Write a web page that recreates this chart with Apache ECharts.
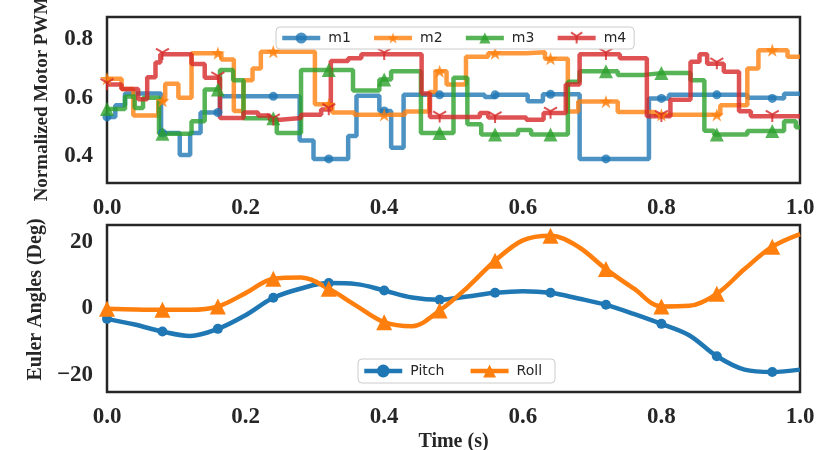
<!DOCTYPE html>
<html><head><meta charset="utf-8">
<script src="https://cdn.jsdelivr.net/npm/echarts@6/dist/echarts.min.js"></script>
<style>html,body{margin:0;padding:0;background:#fff}#c{width:825px;height:450px}</style>
</head><body><div id="c"></div>
<script>
// ---- Top panel: normalized motor PWM (step breakpoints: value holds from time until next time) ----
const m1T = [0, 0.012, 0.026, 0.078, 0.105, 0.12, 0.135, 0.163, 0.278, 0.298, 0.348, 0.36, 0.393, 0.41, 0.428, 0.545, 0.56, 0.607, 0.629, 0.682, 0.782, 0.811, 0.924, 0.96, 0.977, 1.0];
const m1V = [0.535, 0.575, 0.615, 0.48, 0.405, 0.48, 0.55, 0.605, 0.455, 0.392, 0.47, 0.607, 0.555, 0.43, 0.61, 0.603, 0.61, 0.588, 0.612, 0.392, 0.598, 0.61, 0.6, 0.598, 0.614, 0.614];
const m2T = [0, 0.021, 0.038, 0.074, 0.084, 0.103, 0.122, 0.165, 0.183, 0.197, 0.21, 0.222, 0.30, 0.325, 0.357, 0.43, 0.465, 0.474, 0.49, 0.518, 0.55, 0.605, 0.632, 0.665, 0.68, 0.737, 0.79, 0.885, 0.924, 0.94, 0.982, 1.0];
const m2V = [0.665, 0.63, 0.54, 0.59, 0.648, 0.6, 0.752, 0.73, 0.555, 0.66, 0.70, 0.757, 0.578, 0.55, 0.542, 0.553, 0.62, 0.69, 0.645, 0.74, 0.752, 0.755, 0.733, 0.553, 0.587, 0.552, 0.542, 0.575, 0.70, 0.762, 0.74, 0.74];
const m3T = [0, 0.026, 0.04, 0.052, 0.075, 0.122, 0.141, 0.163, 0.182, 0.197, 0.245, 0.28, 0.355, 0.393, 0.41, 0.453, 0.50, 0.52, 0.54, 0.593, 0.612, 0.665, 0.682, 0.737, 0.775, 0.842, 0.862, 0.876, 0.924, 0.977, 0.994, 1.0];
const m3V = [0.562, 0.604, 0.565, 0.60, 0.478, 0.52, 0.628, 0.695, 0.66, 0.53, 0.48, 0.695, 0.625, 0.662, 0.69, 0.48, 0.668, 0.51, 0.475, 0.49, 0.475, 0.655, 0.69, 0.678, 0.684, 0.66, 0.488, 0.475, 0.487, 0.52, 0.50, 0.50];
const m4T = [0, 0.021, 0.045, 0.058, 0.07, 0.077, 0.122, 0.141, 0.163, 0.197, 0.218, 0.235, 0.25, 0.28, 0.309, 0.323, 0.348, 0.367, 0.454, 0.466, 0.538, 0.55, 0.605, 0.63, 0.662, 0.682, 0.74, 0.779, 0.813, 0.842, 0.855, 0.866, 0.89, 0.912, 0.929, 1.0];
const m4V = [0.645, 0.63, 0.595, 0.67, 0.72, 0.748, 0.715, 0.668, 0.531, 0.55, 0.54, 0.525, 0.531, 0.542, 0.56, 0.725, 0.735, 0.748, 0.615, 0.535, 0.548, 0.533, 0.525, 0.548, 0.645, 0.748, 0.735, 0.537, 0.593, 0.723, 0.748, 0.716, 0.689, 0.554, 0.537, 0.537];
const markerTimes = [0, 0.08, 0.16, 0.24, 0.32, 0.40, 0.48, 0.56, 0.64, 0.72, 0.80, 0.88, 0.96];

// ---- Bottom panel: Euler angles (deg) ----
const eulerT = [0, 0.04, 0.08, 0.12, 0.16, 0.20, 0.24, 0.28, 0.32, 0.36, 0.40, 0.44, 0.48, 0.52, 0.56, 0.60, 0.64, 0.68, 0.72, 0.76, 0.80, 0.84, 0.88, 0.92, 0.96, 1.00];
const pitch = [-3.1, -4.8, -6.9, -8.2, -6.1, -2.0, 3.2, 6.0, 7.6, 7.3, 5.4, 3.3, 2.6, 3.6, 4.7, 5.2, 4.7, 3.0, 1.1, -1.6, -4.6, -8.0, -14.3, -18.3, -19.0, -18.3];
const roll = [-0.1, -0.3, -0.4, -0.4, 0.6, 4.6, 8.9, 9.3, 5.9, 0.8, -4.1, -5.3, -0.6, 6.3, 14.3, 20.4, 21.8, 18.5, 11.8, 6.0, 0.6, 0.8, 4.4, 11.8, 18.5, 22.3];

const xTickValues = [0, 0.2, 0.4, 0.6, 0.8, 1.0];
const topYTicks = [0.4, 0.6, 0.8];
const botYTicks = [-20, 0, 20];

const C = ['#1f77b4', '#ff7f0e', '#2ca02c', '#d62728'];
const STAR = 'path://M50,0 L61.8,35.1 L98.9,35.1 L69,57.3 L80.3,92.7 L50,70.8 L19.7,92.7 L31,57.3 L1.1,35.1 L38.2,35.1 Z';
const TRI_DOWN = 'path://M0,0 L0,10 M0,0 L-8.66,-5 M0,0 L8.66,-5';

function stepValue(T, V, t) {
  let v = V[0];
  for (let i = 0; i < T.length; i++) if (T[i] <= t + 1e-9) v = V[i];
  return v;
}
function buildStep(T, V) {
  const pts = T.map((t, i) => [t, V[i], 0]);
  markerTimes.forEach(tm => pts.push([tm, stepValue(T, V, tm), 1]));
  pts.sort((a, b) => (a[0] - b[0]) || (a[2] - b[2]));
  return pts;
}
function motorSeries(name, T, V, color, symbol, size, extra) {
  const pts = buildStep(T, V);
  const flags = pts.map(p => p[2]);
  return Object.assign({
    name: name, type: 'line', xAxisIndex: 0, yAxisIndex: 0, step: 'end',
    data: pts.map(p => [p[0], p[1]]),
    symbol: symbol, showAllSymbol: true,
    symbolSize: (v, p) => flags[p.dataIndex] ? size : 0,
    lineStyle: { width: 4.5, color: color, opacity: 0.8 },
    itemStyle: { color: color, borderColor: color, borderWidth: 0, opacity: 0.8 },
    emphasis: { disabled: true }, animation: false
  }, extra || {});
}

const serif = 'Liberation Serif';
const ink = '#262626';
const tickLabel = { fontFamily: serif, fontWeight: 'bold', fontSize: 23, color: ink };

function xAxis(gi, withName) {
  return {
    type: 'value', gridIndex: gi, min: 0, max: 1,
    axisLine: { show: false }, axisTick: { show: false }, splitLine: { show: false },
    axisLabel: Object.assign({ customValues: xTickValues, margin: 14, formatter: v => v.toFixed(1), showMinLabel: true, showMaxLabel: true }, tickLabel),
    name: withName ? 'Time (s)' : '', nameLocation: 'middle', nameGap: 40,
    nameTextStyle: { fontFamily: serif, fontWeight: 'bold', fontSize: 20, color: ink }
  };
}
function yAxis(gi, min, max, ticks, name, fmt, nameSize, shift) {
  return {
    type: 'value', gridIndex: gi, min: min, max: max,
    axisLine: { show: false }, axisTick: { show: false }, splitLine: { show: false },
    axisLabel: Object.assign({ customValues: ticks, margin: 14, formatter: fmt }, tickLabel),
    name: name, nameLocation: 'middle', nameGap: 55,
    nameTextStyle: { fontFamily: serif, fontWeight: 'bold', fontSize: nameSize, color: ink, padding: [0, 0, 0, shift] }
  };
}

const legendText = { fontFamily: 'DejaVu Sans', fontSize: 14, color: ink, padding: [0, 0, 0, 3] };

const chart = echarts.init(document.getElementById('c'), null, { renderer: 'canvas' });
chart.setOption({
  animation: false,
  backgroundColor: '#ffffff',
  grid: [
    { left: 107, top: 17, width: 693, height: 166, show: true, borderColor: ink, borderWidth: 2.5, backgroundColor: 'transparent', outerBoundsMode: 'none', containLabel: false },
    { left: 107, top: 225, width: 693, height: 167, show: true, borderColor: ink, borderWidth: 2.5, backgroundColor: 'transparent', outerBoundsMode: 'none', containLabel: false }
  ],
  xAxis: [xAxis(0, false), xAxis(1, true)],
  yAxis: [
    yAxis(0, 0.31, 0.875, topYTicks, 'Normalized Motor PWM', v => v.toFixed(1), 19, 2),
    yAxis(1, -25, 25, botYTicks, 'Euler Angles (Deg)', v => String(v).replace('-', '\u2212'), 20, 18)
  ],
  legend: [
    { data: ['m1', 'm2', 'm3', 'm4'], left: 276, top: 27, itemWidth: 38, itemHeight: 14, itemGap: 21,
      padding: [4, 8, 4, 4], backgroundColor: 'rgba(255,255,255,0.85)', borderColor: '#cccccc', borderWidth: 1, borderRadius: 4,
      selectedMode: false, textStyle: legendText, lineStyle: { width: 4.5 } },
    { data: ['Pitch', 'Roll'], left: 358, top: 359, itemWidth: 38, itemHeight: 16, itemGap: 24,
      padding: [5, 13, 5, 4], backgroundColor: 'rgba(255,255,255,0.85)', borderColor: '#cccccc', borderWidth: 1, borderRadius: 4,
      selectedMode: false, textStyle: legendText, lineStyle: { width: 4.5 } }
  ],
  series: [
    motorSeries('m1', m1T, m1V, C[0], 'circle', 9),
    motorSeries('m2', m2T, m2V, C[1], STAR, 14, { symbolKeepAspect: true }),
    motorSeries('m3', m3T, m3V, C[2], 'triangle', 14),
    motorSeries('m4', m4T, m4V, C[3], TRI_DOWN, 13, { symbolKeepAspect: true, itemStyle: { color: 'transparent', borderColor: C[3], borderWidth: 2, opacity: 0.8 } }),
    {
      name: 'Pitch', type: 'line', xAxisIndex: 1, yAxisIndex: 1, smooth: 0.35,
      data: eulerT.map((t, i) => [t, pitch[i]]),
      symbol: 'circle', showAllSymbol: true, symbolSize: (v, p) => (p.dataIndex % 2 === 0 ? 10 : 0),
      lineStyle: { width: 4.5, color: C[0] }, itemStyle: { color: C[0] }, emphasis: { disabled: true }
    },
    {
      name: 'Roll', type: 'line', xAxisIndex: 1, yAxisIndex: 1, smooth: 0.35,
      data: eulerT.map((t, i) => [t, roll[i]]),
      symbol: 'triangle', showAllSymbol: true, symbolSize: (v, p) => (p.dataIndex % 2 === 0 ? 16 : 0),
      lineStyle: { width: 4.5, color: C[1] }, itemStyle: { color: C[1] }, emphasis: { disabled: true }
    }
  ]
});
</script>
</body></html>
